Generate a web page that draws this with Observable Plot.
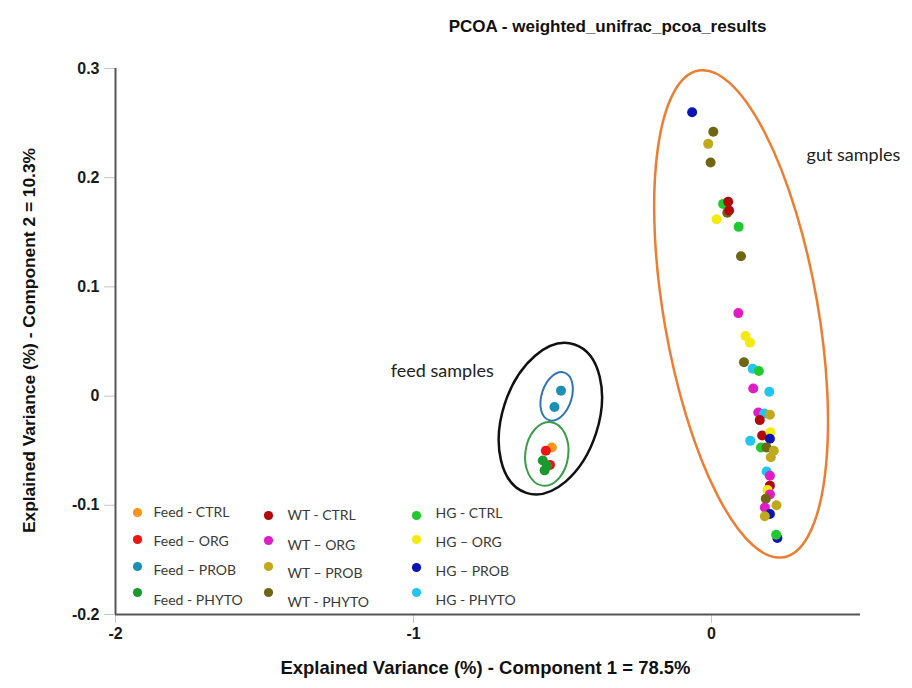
<!DOCTYPE html>
<html>
<head>
<meta charset="utf-8">
<script src="https://cdn.jsdelivr.net/npm/d3@7"></script>
<script src="https://cdn.jsdelivr.net/npm/@observablehq/plot@0.6"></script>
<style>
  body { margin: 0; background: #fff; }
  #chart { width: 912px; height: 688px; }
</style>
</head>
<body>
<div id="chart"></div>
<script>
// ---- Data ----
const groups = ["Feed - CTRL", "Feed – ORG", "Feed – PROB", "Feed - PHYTO",
                "WT - CTRL", "WT – ORG", "WT – PROB", "WT - PHYTO",
                "HG - CTRL", "HG – ORG", "HG – PROB", "HG - PHYTO"];
const groupColors = ["#f7941d", "#ee1414", "#1e8fb4", "#1a9a2e",
                     "#b00a0a", "#e01dc4", "#c0a91c", "#6f6513",
                     "#22c92e", "#f5ea0f", "#0b14b5", "#22c5ef"];

// sample group index, PC1, PC2
const sampleGroup = [
  0, 1, 1, 2, 2, 3, 3, 3,
  10, 7, 6, 7, 8, 4, 7, 4, 9, 8, 7,
  5, 9, 9, 7, 11, 8, 5, 11, 5, 11, 6, 4, 11, 4, 9, 10, 8, 7, 6, 6,
  11, 5, 4, 9, 5, 7, 6, 5, 10, 6, 10, 8
];
const pc1 = [
  -0.536, -0.556, -0.542, -0.505, -0.527, -0.566, -0.560, -0.552,
  -0.065, 0.006, -0.011, -0.003, 0.039, 0.056, 0.053, 0.059, 0.017, 0.091, 0.099,
  0.090, 0.114, 0.129, 0.109, 0.138, 0.159, 0.140, 0.194, 0.157, 0.177, 0.196, 0.162, 0.130, 0.170, 0.198, 0.196, 0.166, 0.185, 0.209, 0.199,
  0.185, 0.196, 0.196, 0.188, 0.196, 0.182, 0.218, 0.179, 0.196, 0.179, 0.221, 0.217
];
const pc2 = [
  -0.047, -0.050, -0.063, 0.005, -0.010, -0.059, -0.068, -0.064,
  0.260, 0.242, 0.231, 0.214, 0.176, 0.178, 0.168, 0.170, 0.162, 0.155, 0.128,
  0.076, 0.055, 0.049, 0.031, 0.025, 0.023, 0.007, 0.004, -0.015, -0.016, -0.017, -0.022, -0.041, -0.036, -0.033, -0.039, -0.047, -0.047, -0.050, -0.056,
  -0.069, -0.073, -0.082, -0.086, -0.090, -0.094, -0.100, -0.102, -0.108, -0.110, -0.130, -0.127
];

const xTicks = [-2, -1, 0];
const yTicks = [-0.2, -0.1, 0, 0.1, 0.2, 0.3];

const titleText = "PCOA - weighted_unifrac_pcoa_results";
const xLabel = "Explained Variance (%) - Component 1 = 78.5%";
const yLabel = "Explained Variance (%) - Component 2 = 10.3%";

// annotation labels and ellipses (centre in data units)
const noteText = ["gut samples", "feed samples"];
const noteX = [0.319, -1.076];
const noteY = [0.221, 0.023];
const ellipseCx = [0.101, -0.539, -0.518, -0.551];
const ellipseCy = [0.0748, -0.0211, -0.0007, -0.0534];
const ellipseColor = ["#ed7d31", "#111111", "#2e75b6", "#3a9d48"];

// ---- Layout ----
const W = 912, H = 688, ML = 115, MR = 52, MT = 68, MB = 74;
const ellipseRx = [77, 48, 15, 21.5];
const ellipseRy = [247, 78, 25, 32];
const ellipseRot = [-9.9, 18, 18, 7.6];
const ellipseWidth = [2.5, 2.5, 2, 2];
const legendDotX = [137, 268, 416];
const legendTextX = [153, 287, 435];
const legendDotY = [[512, 539, 566, 592], [515, 540, 566, 592], [515, 539, 567, 592]];
const legendTextY = [[507, 536, 565, 595], [510, 540, 568, 597], [508, 537, 566, 595]];

const points = pc1.map((x, i) => ({x, y: pc2[i], group: groups[sampleGroup[i]]}));

const bodyFont = "Lato, Calibri, Carlito, sans-serif";
const boldFont = "'Liberation Sans', Arial, sans-serif";

const legendMarks = [];
groups.forEach((g, i) => {
  const col = Math.floor(i / 4), row = i % 4;
  legendMarks.push(Plot.dot([g], {
    fill: d => d, r: 4.6, frameAnchor: "top-left",
    dx: legendDotX[col] - ML, dy: legendDotY[col][row] - MT
  }));
  legendMarks.push(Plot.text([g], {
    text: d => d, frameAnchor: "top-left", textAnchor: "start",
    dx: legendTextX[col] - ML, dy: legendTextY[col][row] - MT,
    fontFamily: bodyFont, fontSize: 14, fontWeight: "normal", fill: "#3a3a3a"
  }));
});

const chart = Plot.plot({
  width: W, height: H,
  marginLeft: ML, marginRight: MR, marginTop: MT, marginBottom: MB,
  style: {fontFamily: boldFont, fontWeight: "bold", fontSize: "16px", color: "#1a1a1a", background: "#fff"},
  x: {domain: [-2, 0.5], label: null},
  y: {domain: [-0.2, 0.3], label: null},
  color: {domain: groups, range: groupColors},
  marks: [
    Plot.axisX({ticks: xTicks, tickFormat: d => String(d), tickSize: 9, tickPadding: 4, stroke: "#c4c4c4", fill: "#1a1a1a", label: null}),
    Plot.axisY({ticks: yTicks, tickFormat: d => d === 0 ? "0" : d.toFixed(1), tickSize: 11, tickPadding: 5, stroke: "#c4c4c4", fill: "#1a1a1a", label: null}),
    Plot.ruleX([-2], {stroke: "#555", strokeWidth: 2}),
    Plot.ruleY([-0.2], {stroke: "#555", strokeWidth: 2}),
    Plot.dot(points, {x: "x", y: "y", fill: "group", r: 5}),
    ...legendMarks,
    Plot.text(noteText, {x: (d, i) => noteX[i], y: (d, i) => noteY[i], text: d => d, textAnchor: "start",
      fontFamily: bodyFont, fontSize: 18, fontWeight: "normal", fill: "#222"}),
    Plot.text([titleText], {text: d => d, frameAnchor: "top-left", textAnchor: "middle", dx: 607 - ML, dy: 19 - MT,
      fontFamily: boldFont, fontSize: 17, fontWeight: "bold", fill: "#111"}),
    Plot.text([xLabel], {text: d => d, frameAnchor: "bottom-left", textAnchor: "middle", dx: 485 - ML, dy: 673 - (H - MB),
      fontFamily: boldFont, fontSize: 19, fontWeight: "bold", fill: "#111", className: "xlab"}),
    Plot.text([yLabel], {text: d => d, frameAnchor: "top-left", textAnchor: "middle", rotate: -90, dx: 22 - ML, dy: 340 - MT,
      fontFamily: boldFont, fontSize: 17, fontWeight: "bold", fill: "#111", className: "ylab"})
  ]
});

// Condense the axis titles (the original uses a narrow bold face)
d3.select(chart).selectAll(".xlab text").attr("textLength", 410).attr("lengthAdjust", "spacingAndGlyphs");
d3.select(chart).selectAll(".ylab text").attr("textLength", 385).attr("lengthAdjust", "spacingAndGlyphs");

// Ellipse annotations positioned through the plot's own scales
const sx = chart.scale("x"), sy = chart.scale("y");
const eg = d3.select(chart).append("g").attr("aria-label", "annotation ellipses");
ellipseCx.forEach((cx, i) => {
  eg.append("ellipse")
    .attr("cx", 0).attr("cy", 0)
    .attr("rx", ellipseRx[i]).attr("ry", ellipseRy[i])
    .attr("transform", `translate(${sx.apply(cx)},${sy.apply(ellipseCy[i])}) rotate(${ellipseRot[i]})`)
    .attr("fill", "none").attr("stroke", ellipseColor[i]).attr("stroke-width", ellipseWidth[i]);
});

document.getElementById("chart").appendChild(chart);
</script>
</body>
</html>
